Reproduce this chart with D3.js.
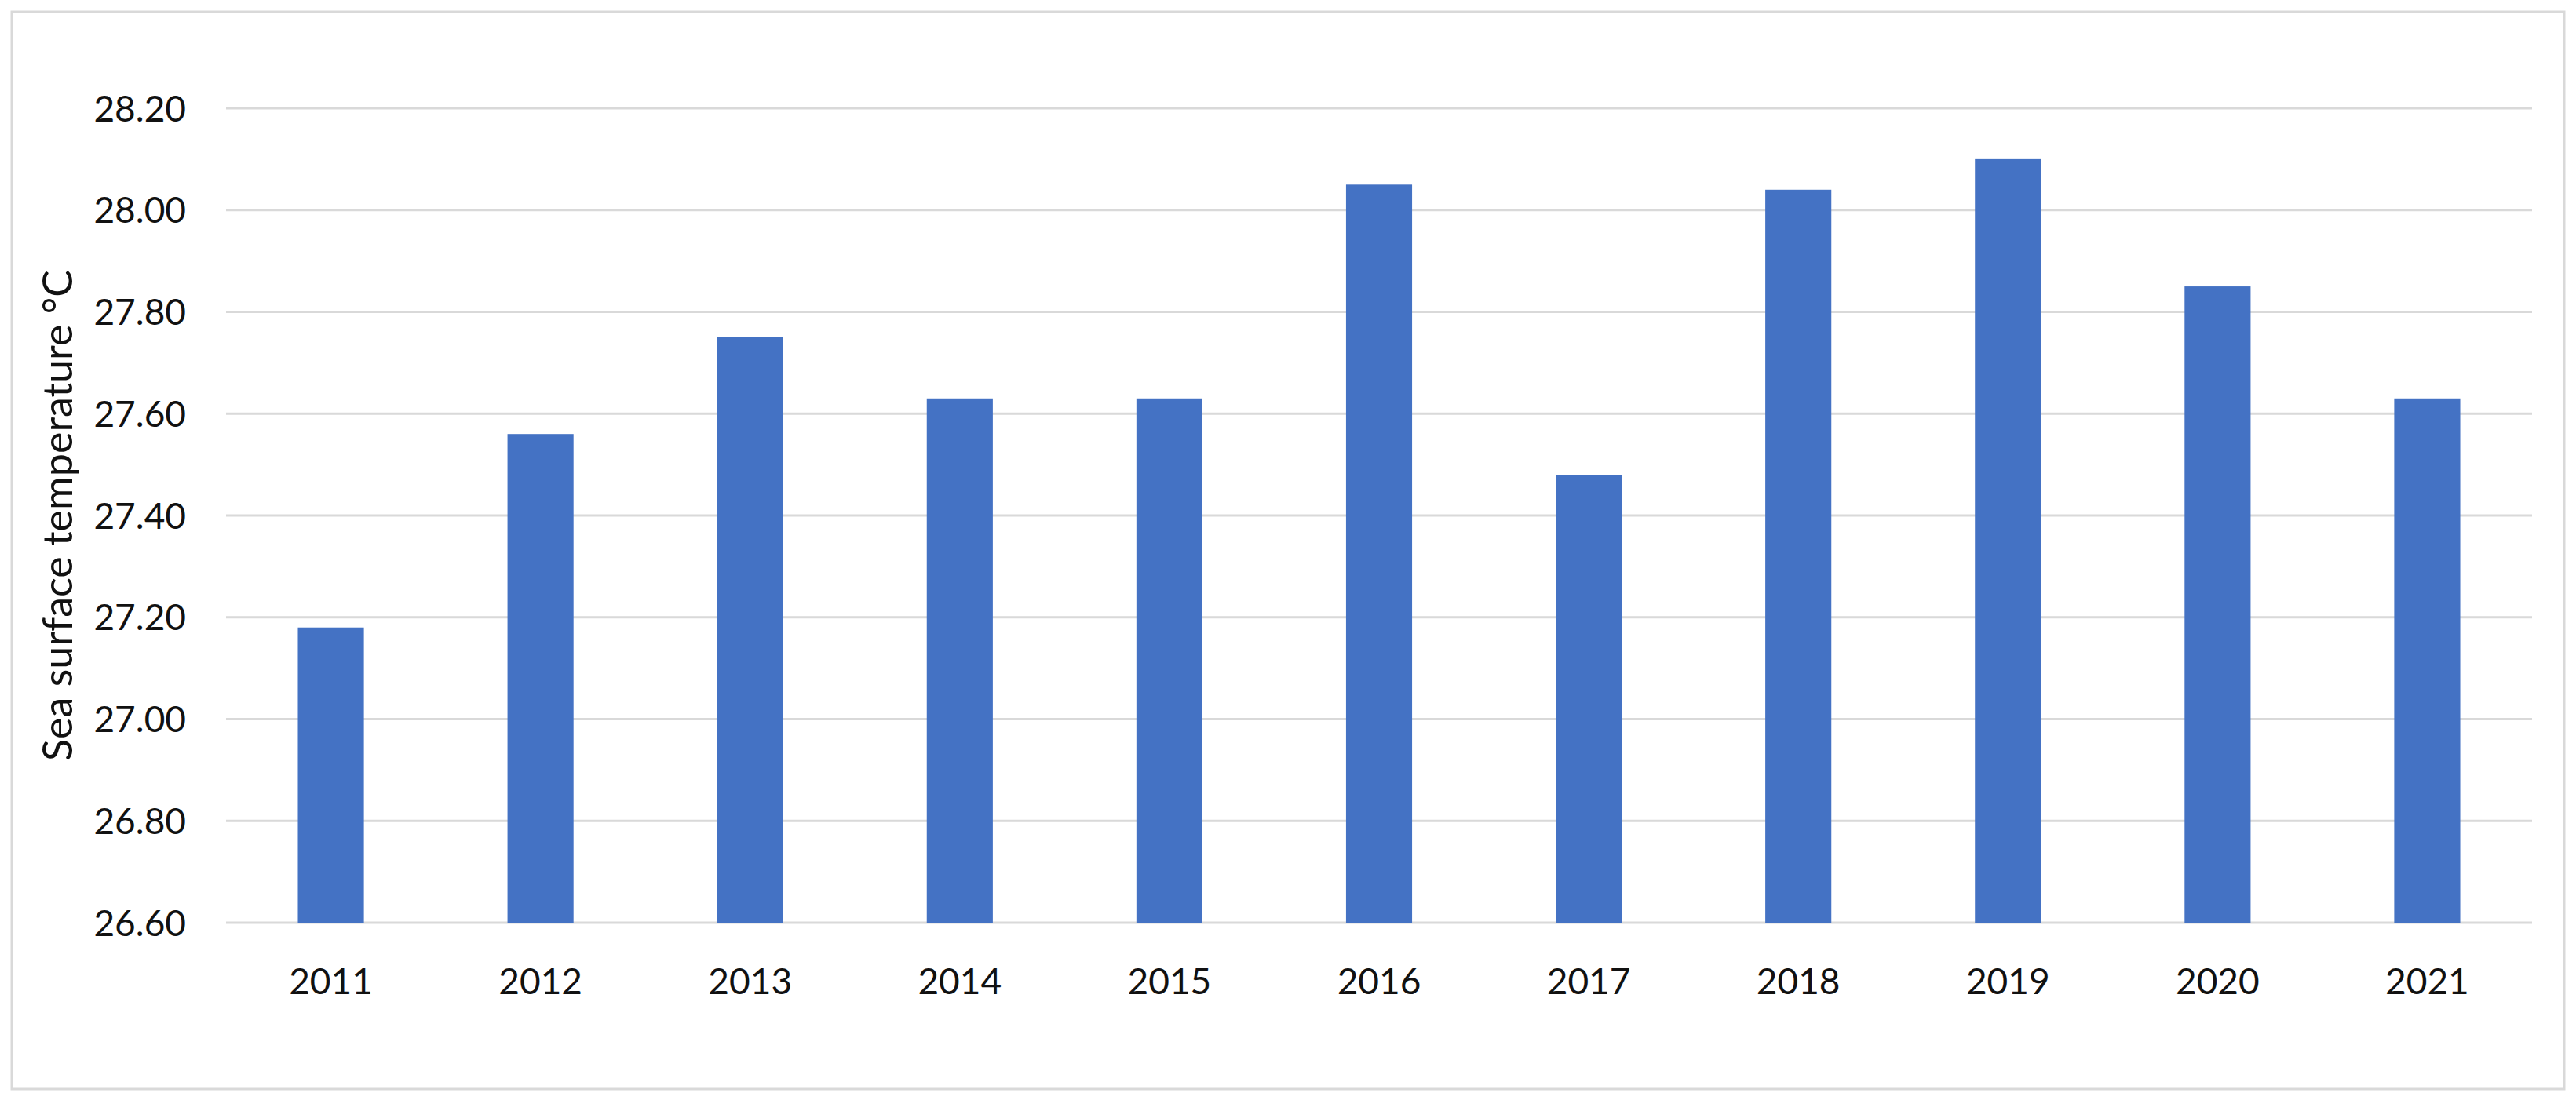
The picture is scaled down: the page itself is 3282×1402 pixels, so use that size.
<!DOCTYPE html>
<html>
<head>
<meta charset="utf-8">
<script src="https://cdn.jsdelivr.net/npm/d3@7"></script>
<style>
  body { margin: 0; background: #fff; }
  text { font-family: Lato, "Open Sans", sans-serif; fill: #111; }
</style>
</head>
<body>
<svg id="chart" width="3282" height="1402"></svg>
<script>
var years = ["2011", "2012", "2013", "2014", "2015", "2016", "2017", "2018", "2019", "2020", "2021"];
var temps = [27.18, 27.56, 27.75, 27.63, 27.63, 28.05, 27.48, 28.04, 28.10, 27.85, 27.63];
var yTicks = [26.6, 26.8, 27.0, 27.2, 27.4, 27.6, 27.8, 28.0, 28.2];

var m = [138, 56, 226, 288]; // top right bottom left
var w = 3282, h = 1402;

var svg = d3.select("#chart");

// outer frame
svg.append("rect")
    .attr("x", 15).attr("y", 15)
    .attr("width", 3252).attr("height", 1373)
    .attr("fill", "none").attr("stroke", "#d9d9d9").attr("stroke-width", 3);

var x = d3.scaleBand().domain(years).range([m[3], w - m[1]]).paddingInner(0.685).paddingOuter(0.3425);
var y = d3.scaleLinear().domain([26.6, 28.2]).range([h - m[2], m[0]]);

// gridlines
svg.append("g").selectAll("line")
    .data(yTicks)
  .enter().append("line")
    .attr("x1", m[3]).attr("x2", w - m[1])
    .attr("y1", function(d) { return y(d); })
    .attr("y2", function(d) { return y(d); })
    .attr("stroke", "#d9d9d9").attr("stroke-width", 3);

// y tick labels
svg.append("g").selectAll("text")
    .data(yTicks)
  .enter().append("text")
    .attr("x", 237)
    .attr("y", function(d) { return y(d); })
    .attr("dy", "0.36em")
    .attr("text-anchor", "end")
    .style("font-size", "46px")
    .text(function(d) { return d3.format(".2f")(d); });

// bars
svg.append("g").selectAll("rect")
    .data(temps)
  .enter().append("rect")
    .attr("x", function(d, i) { return x(years[i]); })
    .attr("width", x.bandwidth())
    .attr("y", function(d) { return y(d); })
    .attr("height", function(d) { return y(26.6) - y(d); })
    .attr("fill", "#4472c4");

// x labels
svg.append("g").selectAll("text")
    .data(years)
  .enter().append("text")
    .attr("x", function(d) { return x(d) + x.bandwidth() / 2; })
    .attr("y", 1250)
    .attr("dy", "0.36em")
    .attr("text-anchor", "middle")
    .style("font-size", "46px")
    .text(function(d) { return d; });

// y title
svg.append("text")
    .attr("transform", "translate(73,657) rotate(-90)")
    .attr("text-anchor", "middle")
    .attr("dy", "0.36em")
    .style("font-size", "52px")
    .text("Sea surface temperature °C");
</script>
</body>
</html>
